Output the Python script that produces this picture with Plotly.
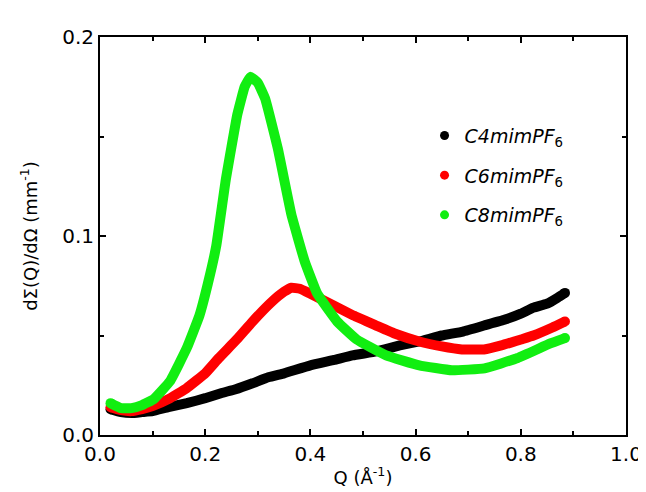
import plotly.graph_objects as go

# ---- data ----
q_c4 = [0.02, 0.04, 0.06, 0.08, 0.10, 0.13, 0.165, 0.20, 0.23, 0.258, 0.29, 0.32, 0.35, 0.40,
        0.445, 0.48, 0.525, 0.57, 0.607, 0.65, 0.69, 0.73, 0.77, 0.80, 0.824, 0.85, 0.87, 0.884]
i_c4 = [0.013, 0.0115, 0.011, 0.0115, 0.012, 0.014, 0.016, 0.0185, 0.021, 0.023, 0.026, 0.029, 0.031, 0.035,
        0.0377, 0.040, 0.042, 0.045, 0.047, 0.050, 0.052, 0.055, 0.058, 0.061, 0.064, 0.066, 0.069, 0.0714]

q_c6 = [0.02, 0.04, 0.06, 0.08, 0.10, 0.13, 0.165, 0.20, 0.226, 0.26, 0.29, 0.327, 0.35, 0.364, 0.38,
        0.40, 0.445, 0.482, 0.525, 0.56, 0.607, 0.65, 0.688, 0.73, 0.763, 0.80, 0.824, 0.86, 0.884]
i_c6 = [0.014, 0.0125, 0.012, 0.013, 0.0145, 0.018, 0.0236, 0.031, 0.0387, 0.048, 0.057, 0.067, 0.072, 0.074, 0.0735,
        0.071, 0.065, 0.060, 0.055, 0.051, 0.047, 0.0445, 0.0430, 0.0430, 0.045, 0.048, 0.050, 0.054, 0.057]

q_c8 = [0.02, 0.04, 0.06, 0.08, 0.102, 0.133, 0.165, 0.189, 0.205, 0.221, 0.239, 0.261, 0.275, 0.286, 0.30,
        0.314, 0.338, 0.364, 0.389, 0.413, 0.451, 0.488, 0.544, 0.607, 0.669, 0.731, 0.794, 0.856, 0.884]
i_c8 = [0.016, 0.0135, 0.0135, 0.015, 0.018, 0.027, 0.0437, 0.060, 0.076, 0.095, 0.128, 0.161, 0.175, 0.180, 0.177,
        0.169, 0.144, 0.1106, 0.0874, 0.071, 0.057, 0.048, 0.040, 0.035, 0.0325, 0.0335, 0.0387, 0.046, 0.0487]

names = ["<i>C4mimPF</i><sub>6</sub>", "<i>C6mimPF</i><sub>6</sub>", "<i>C8mimPF</i><sub>6</sub>"]
colors = ["#000000", "#ff0000", "#11ee11"]
series = [(q_c4, i_c4), (q_c6, i_c6), (q_c8, i_c8)]

fig = go.Figure()
for (q, v), c in zip(series, colors):
    fig.add_trace(go.Scatter(x=q, y=v, mode="lines", line=dict(color=c, width=10, shape="spline", smoothing=0.3),
                             showlegend=False, hoverinfo="skip"))
    fig.add_trace(go.Scatter(x=[q[0], q[-1]], y=[v[0], v[-1]], mode="markers",
                             marker=dict(color=c, size=10), showlegend=False, hoverinfo="skip"))

for i, (n, c) in enumerate(zip(names, colors)):
    fig.add_trace(go.Scatter(x=[None], y=[None], mode="markers", name=n, legendgroup=f"g{i}",
                             marker=dict(color=c, size=9)))

axis_common = dict(showline=True, linecolor="black", linewidth=2, mirror="ticks",
                   ticks="inside", ticklen=6, tickwidth=2, tickcolor="black",
                   showgrid=False, zeroline=False,
                   tickfont=dict(family="DejaVu Sans", size=20, color="black"))

fig.update_xaxes(range=[0, 1.0], dtick=0.2, tickformat=".1f",
                 minor=dict(ticks="inside", dtick=0.1, ticklen=4, tickwidth=2, tickcolor="black"),
                 title=dict(text="Q (Å<sup>-1</sup>)", font=dict(family="DejaVu Sans", size=18, color="black"),
                            standoff=6),
                 **axis_common)
fig.update_yaxes(range=[0, 0.2], dtick=0.1, tickformat=".1f",
                 minor=dict(ticks="inside", dtick=0.05, ticklen=4, tickwidth=2, tickcolor="black"),
                 title=dict(text="dΣ(Q)/dΩ (mm<sup>-1</sup>)", font=dict(family="DejaVu Sans", size=18, color="black"),
                            standoff=20),
                 **axis_common)

fig.update_layout(
    width=646, height=492,
    margin=dict(l=92, r=19, t=29, b=65),
    paper_bgcolor="white", plot_bgcolor="white",
    legend=dict(x=0.617, y=0.80, xanchor="left", yanchor="top", tracegroupgap=12,
                font=dict(family="DejaVu Sans", size=19, color="black"),
                bgcolor="rgba(0,0,0,0)"),
)

fig.write_html("out.html")
